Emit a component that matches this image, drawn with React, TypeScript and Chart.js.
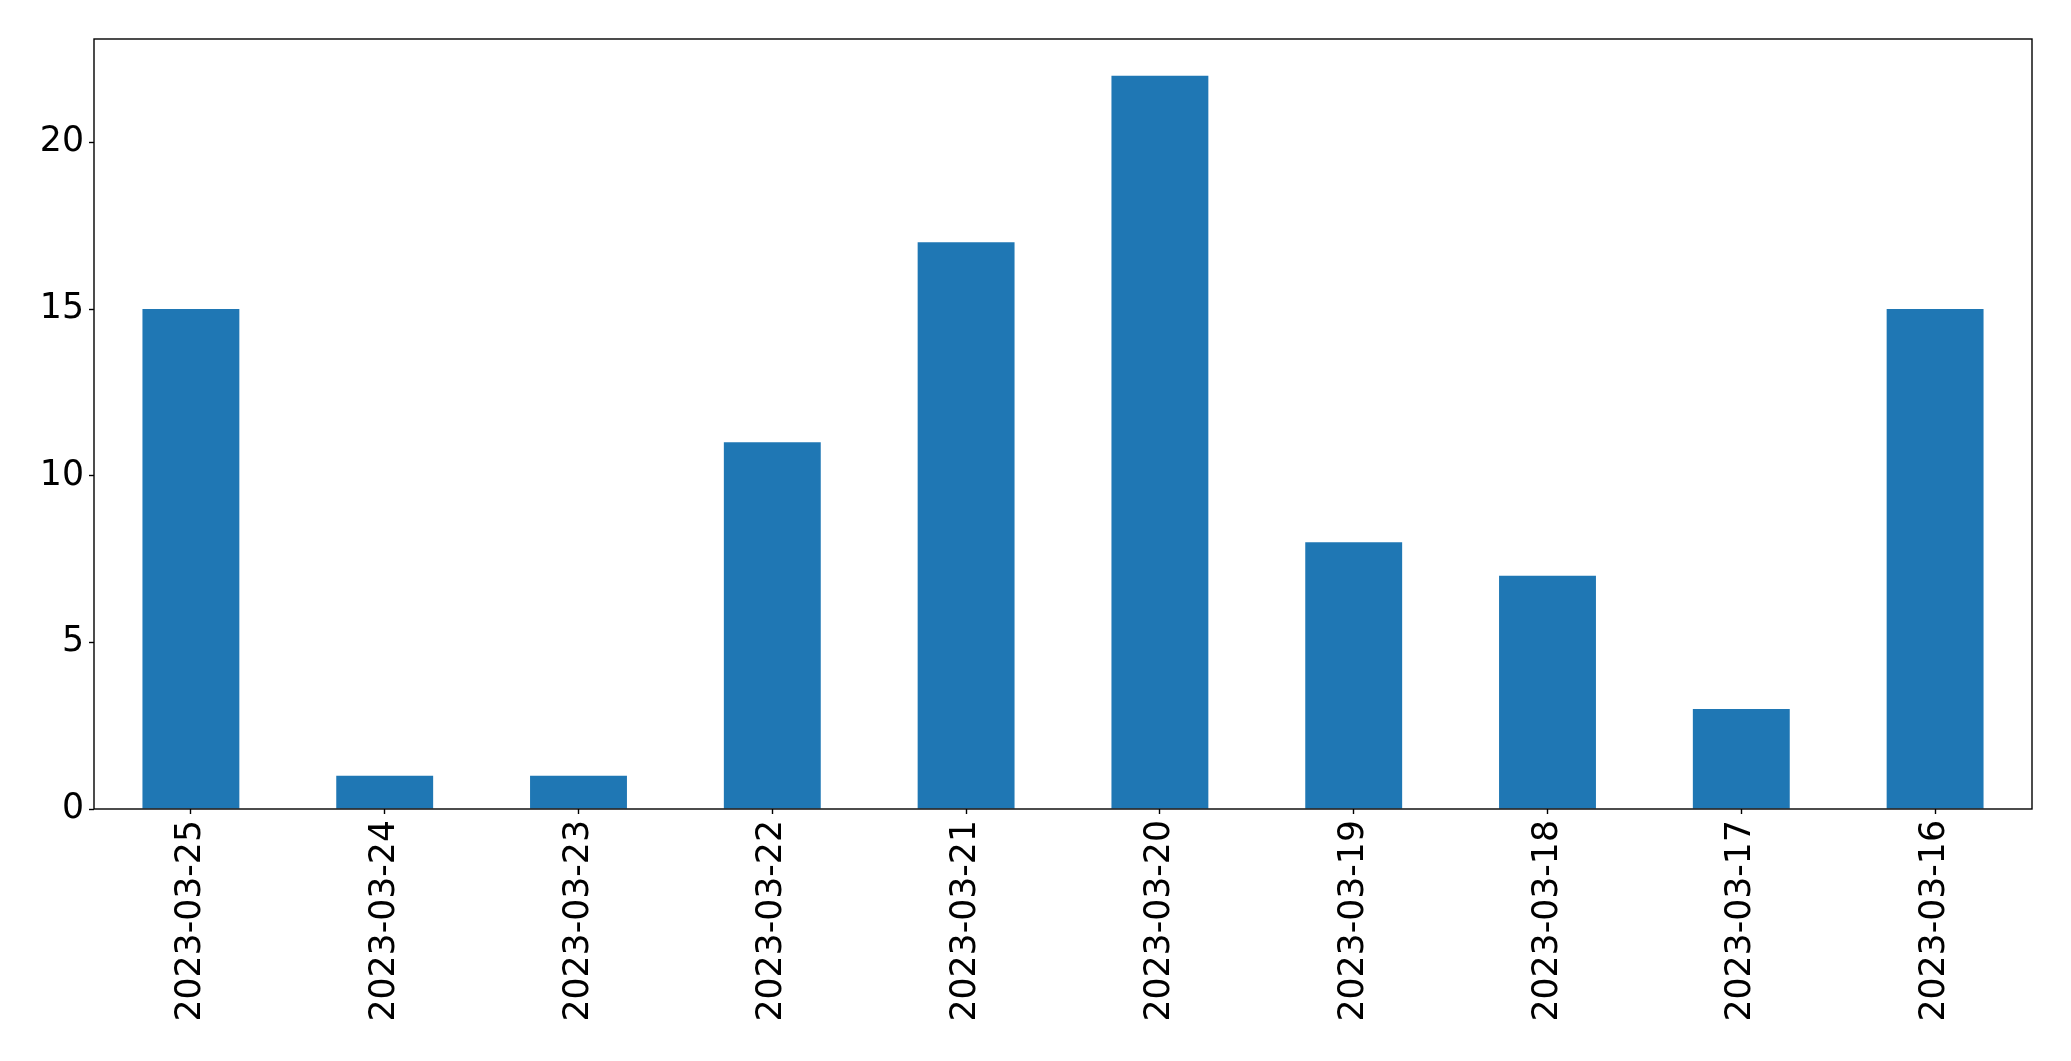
import React, { useEffect, useRef } from "react";
import { Chart, registerables } from "chart.js";

Chart.register(...registerables);

const categories = [
  "2023-03-25",
  "2023-03-24",
  "2023-03-23",
  "2023-03-22",
  "2023-03-21",
  "2023-03-20",
  "2023-03-19",
  "2023-03-18",
  "2023-03-17",
  "2023-03-16",
];
const counts = [15, 1, 1, 11, 17, 22, 8, 7, 3, 15];
const yTicks = [0, 5, 10, 15, 20];
const yMax = 23.1;

const W = 2071;
const H = 1061;
const FONT = "'DejaVu Sans', sans-serif";
const FS = 34.7;

const frame = {
  id: "frame",
  afterDatasetsDraw(chart: any) {
    const { ctx, chartArea } = chart;
    ctx.save();
    ctx.strokeStyle = "#000";
    ctx.lineWidth = 1.4;
    ctx.strokeRect(chartArea.left, chartArea.top, chartArea.right - chartArea.left, chartArea.bottom - chartArea.top);
    ctx.restore();
  },
};

export default function App() {
  const ref = useRef<HTMLCanvasElement | null>(null);
  useEffect(() => {
    if (!ref.current) return;
    const chart = new Chart(ref.current, {
      type: "bar",
      data: {
        labels: categories,
        datasets: [
          {
            data: counts,
            backgroundColor: "#1f77b4",
            borderWidth: 0,
            categoryPercentage: 1,
            barPercentage: 0.5,
          },
        ],
      },
      plugins: [frame],
      options: {
        animation: false,
        responsive: false,
        devicePixelRatio: 1,
        layout: { padding: { top: 39, right: 39, left: 0, bottom: 0 } },
        plugins: { legend: { display: false }, tooltip: { enabled: false } },
        scales: {
          x: {
            type: "category",
            offset: true,
            grid: {
              display: true,
              drawOnChartArea: false,
              drawTicks: true,
              tickLength: 5,
              tickWidth: 1.4,
              color: "#000",
              offset: false,
            },
            border: { display: false },
            ticks: {
              color: "#000",
              font: { family: FONT, size: FS },
              minRotation: 90,
              maxRotation: 90,
              autoSkip: false,
              padding: 6,
            },
            afterFit(scale: any) {
              scale.height = 252;
            },
          },
          y: {
            type: "linear",
            min: 0,
            max: yMax,
            grid: {
              display: true,
              drawOnChartArea: false,
              drawTicks: true,
              tickLength: 5,
              tickWidth: 1.4,
              color: "#000",
            },
            border: { display: false },
            ticks: {
              color: "#000",
              font: { family: FONT, size: FS },
              padding: 5,
            },
            afterBuildTicks(scale: any) {
              scale.ticks = yTicks.map((v) => ({ value: v }));
            },
            afterFit(scale: any) {
              scale.width = 94;
            },
          },
        },
      },
    });
    return () => chart.destroy();
  }, []);
  return (
    <div style={{ position: "fixed", left: 0, top: 0, width: W, height: H, background: "#fff" }}>
      <canvas ref={ref} width={W} height={H} style={{ width: W, height: H, display: "block" }} />
    </div>
  );
}
